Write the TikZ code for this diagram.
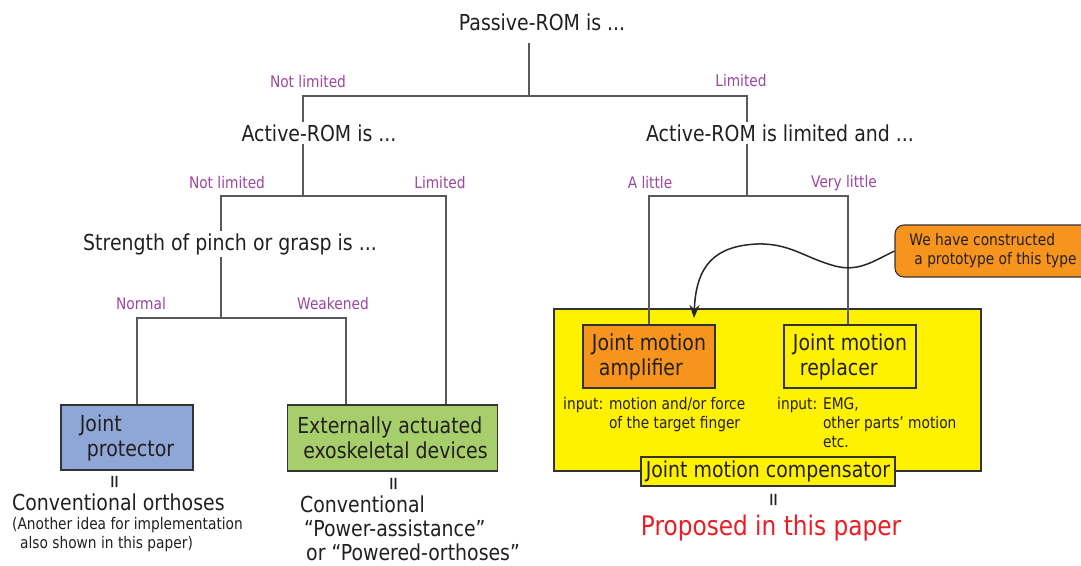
\documentclass[tikz,border=0pt]{standalone}
\usepackage{fontspec}
\setmainfont{DejaVu Sans}[FakeStretch=0.86]
\usetikzlibrary{arrows.meta,positioning}

\definecolor{ink}{RGB}{35,31,32}
\definecolor{lilac}{RGB}{155,70,160}
\definecolor{protblue}{RGB}{143,167,214}
\definecolor{exogreen}{RGB}{166,206,106}
\definecolor{compyellow}{RGB}{255,242,0}
\definecolor{amporange}{RGB}{247,148,29}
\definecolor{propred}{RGB}{237,28,36}

\tikzset{
  txt/.style={font=\fontsize{22}{25}\selectfont, text=ink, inner sep=2pt},
  lbl/.style={font=\fontsize{16}{19}\selectfont, text=lilac, inner sep=1pt},
  note/.style={font=\fontsize{16}{19}\selectfont, text=ink, inner sep=0pt},
  tree/.style={draw=black!65, line width=1.1pt},
  box/.style={txt, draw=black!80, line width=1.1pt, align=left, minimum height=63pt},
  eqsign/.style={font=\fontsize{21}{21}\selectfont, text=ink, rotate=90, inner sep=0pt},
}

\begin{document}
\begin{tikzpicture}[x=1pt,y=-1pt]
\useasboundingbox (0,0) rectangle (1081,565);

% questions
\node[txt] (passive) at (542,22) {Passive-ROM is ...};
\node[txt] (activeA) at (319,133) {Active-ROM is ...};
\node[txt] (activeB) at (780,133) {Active-ROM is limited and ...};
\node[txt] (strength) at (230,244) {Strength of pinch or grasp is ...};

% compensator group
\node[draw=black!80, line width=1.1pt, fill=compyellow, minimum width=427pt, minimum height=162pt] (group) at (767.5,390) {};

% branch points
\coordinate (b1) at (529,96);
\coordinate (b1l) at (303,96);
\coordinate (b1r) at (747,96);
\coordinate (b2) at (303,196);
\coordinate (b2l) at (221,196);
\coordinate (b2r) at (446,196);
\coordinate (b3) at (221,318);
\coordinate (b3l) at (137,318);
\coordinate (b3r) at (346,318);
\coordinate (b4) at (747,196);
\coordinate (b4l) at (649,196);
\coordinate (b4r) at (848,196);

% answer boxes
\node[box, fill=protblue, minimum width=132pt, minimum height=65pt] (protector) at (127,437.5) {Joint\\\hspace*{7pt}protector};
\node[box, fill=exogreen, minimum width=210pt, minimum height=66pt] (exo) at (392.5,438) {Externally actuated\\\hspace*{6pt}exoskeletal devices};
\node[box, fill=amporange, minimum width=132pt] (amp) at (649,356.5) {Joint motion\\\hspace*{7pt}amplifier};
\node[box, fill=compyellow, minimum width=132pt] (repl) at (850,356.5) {Joint motion\\\hspace*{7pt}replacer};
\node[box, fill=compyellow, minimum width=254pt, minimum height=29pt, align=center] (comp) at (768,471.5) {Joint motion compensator};

% tree
\draw[tree] ([yshift=-10pt]passive.south -| b1) -- (b1);
\draw[tree] (activeA.north -| b1l) |- (b1r) -- (activeB.north -| b1r);
\draw[tree] (activeA.south -| b2) -- (b2);
\draw[tree] (strength.north -| b2l) |- (b2r) -- (exo.north -| b2r);
\draw[tree] (strength.south -| b3) -- (b3);
\draw[tree] (protector.north -| b3l) |- (b3r) -- (exo.north -| b3r);
\draw[tree] (activeB.south -| b4) -- (b4);
\draw[tree] (amp.north -| b4l) |- (b4r) -- (repl.north -| b4r);

% branch labels
\node[lbl] (l1) at (308,82) {Not limited};
\node[lbl] (l2) at (741,81) {Limited};
\node[lbl] (l3) at (227,183) {Not limited};
\node[lbl] (l4) at (440,183) {Limited};
\node[lbl] (l5) at (141,304) {Normal};
\node[lbl] (l6) at (333,304) {Weakened};
\node[lbl] (l7) at (650,183) {A little};
\node[lbl] (l8) at (844,183) {Very little};

% inputs
\node[note, anchor=north west] (ampin) at (563,396) {input: \begin{tabular}[t]{@{}l@{}}motion and/or force\\of the target finger\end{tabular}};
\node[note, anchor=north west] (replin) at (777,396) {input: \begin{tabular}[t]{@{}l@{}}EMG,\\other parts’ motion\\etc.\end{tabular}};

% equivalences
\node[eqsign] (eq1) at (117,482) {=};
\node[eqsign] (eq2) at (396,484) {=};
\node[eqsign] (eq3) at (776,500) {=};

\node[txt, anchor=north west, inner sep=0pt] (conv1) at (12,494) {Conventional orthoses};
\node[note, anchor=north west, align=left] (conv1n) at (12,517) {(Another idea for implementation\\\hspace*{8pt}also shown in this paper)};
\node[txt, font=\fontsize{22}{24}\selectfont, anchor=north west, align=left, inner sep=0pt] (conv2) at (300,496) {Conventional\\\hspace*{4pt}“Power-assistance”\\\hspace*{6pt}or “Powered-orthoses”};
\node[txt, text=propred, font=\fontsize{27}{32}\selectfont] (proposed) at (771,528) {Proposed in this paper};

% callout
\node[note, draw=black!80, line width=1.1pt, fill=amporange, rounded corners=9pt, minimum width=196pt, minimum height=52pt, align=left] (callout) at (993,251) {We have constructed\\\hspace*{5pt}a prototype of this type};
\coordinate (tip) at (694,318);
\draw[line width=1.5pt, black!85, -{Stealth[length=13pt,width=10pt]}] (callout.west) .. controls (872,262) and (858,272) .. (835,266) .. controls (805,258) and (790,243) .. (757,244) .. controls (715,246) and (696,265) .. (tip);
\end{tikzpicture}
\end{document}
